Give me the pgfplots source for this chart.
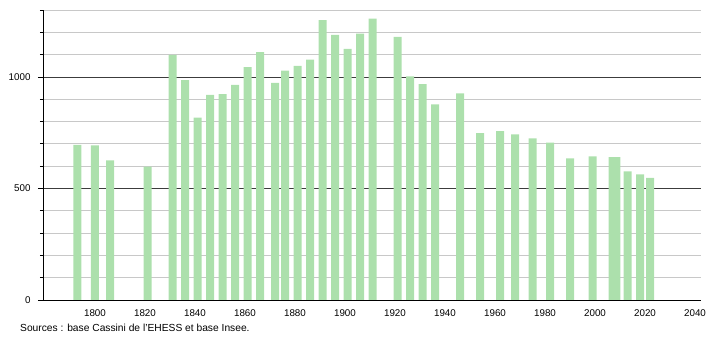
\documentclass[border=0pt]{standalone}
\usepackage{pgfplots}
\pgfplotsset{compat=1.18}
\usepackage{fontspec}
\setmainfont{Liberation Sans}
\definecolor{barg}{RGB}{172,224,172}
\definecolor{minorg}{RGB}{200,200,200}
\definecolor{majorg}{RGB}{60,60,60}
\begin{document}
\begin{tikzpicture}[x=1pt,y=1pt]
\path (0,0) rectangle (710,340);
\begin{axis}[
  at={(43pt,40pt)}, anchor=south west,
  scale only axis, width=657.5pt, height=290pt,
  xmin=1779.2, xmax=2042.2, ymin=0, ymax=1300,
  axis lines=left, axis line style={-, black, line width=0.8pt},
  xtick={1800,1820,...,2040},
  ytick={0,500,1000},
  minor ytick={100,200,300,400,600,700,800,900,1100,1200,1300},
  ymajorgrids, yminorgrids,
  major grid style={majorg, line width=0.7pt},
  minor grid style={minorg, line width=0.7pt},
  xtick style={draw=none},
  ytick style={black, line width=0.7pt},
  major tick length=5pt, minor tick length=3pt,
  tick align=outside,
  /pgf/number format/assume math mode=true,
  /pgf/number format/1000 sep={},
  tick label style={font=\fontsize{9.8}{11}\selectfont},
  yticklabel style={xshift=-4pt},
  xticklabel style={yshift=-1pt},
  ybar, bar width=3.2, 
]
\addplot[fill=barg, draw=none] coordinates {
(1793,695) (1800,693) (1806,626) (1821,598) (1831,1099) (1836,986)
(1841,817) (1846,919) (1851,923) (1856,964) (1861,1044) (1866,1111)
(1872,973) (1876,1028) (1881,1050) (1886,1077) (1891,1255) (1896,1189)
(1901,1126) (1906,1194) (1911,1261) (1921,1179) (1926,1003) (1931,968)
(1936,877) (1946,926) (1954,748) (1962,757) (1968,743) (1975,725)
(1982,706) (1990,635) (1999,644) (2007,640) (2008.5,640) (2013,577)
(2018,563) (2022,548)
};
\end{axis}
\node[anchor=west, font=\fontsize{10.25}{12}\selectfont, inner sep=0pt] at (20pt,12pt) {Sources : base Cassini de l'EHESS et base Insee.};
\end{tikzpicture}
\end{document}
